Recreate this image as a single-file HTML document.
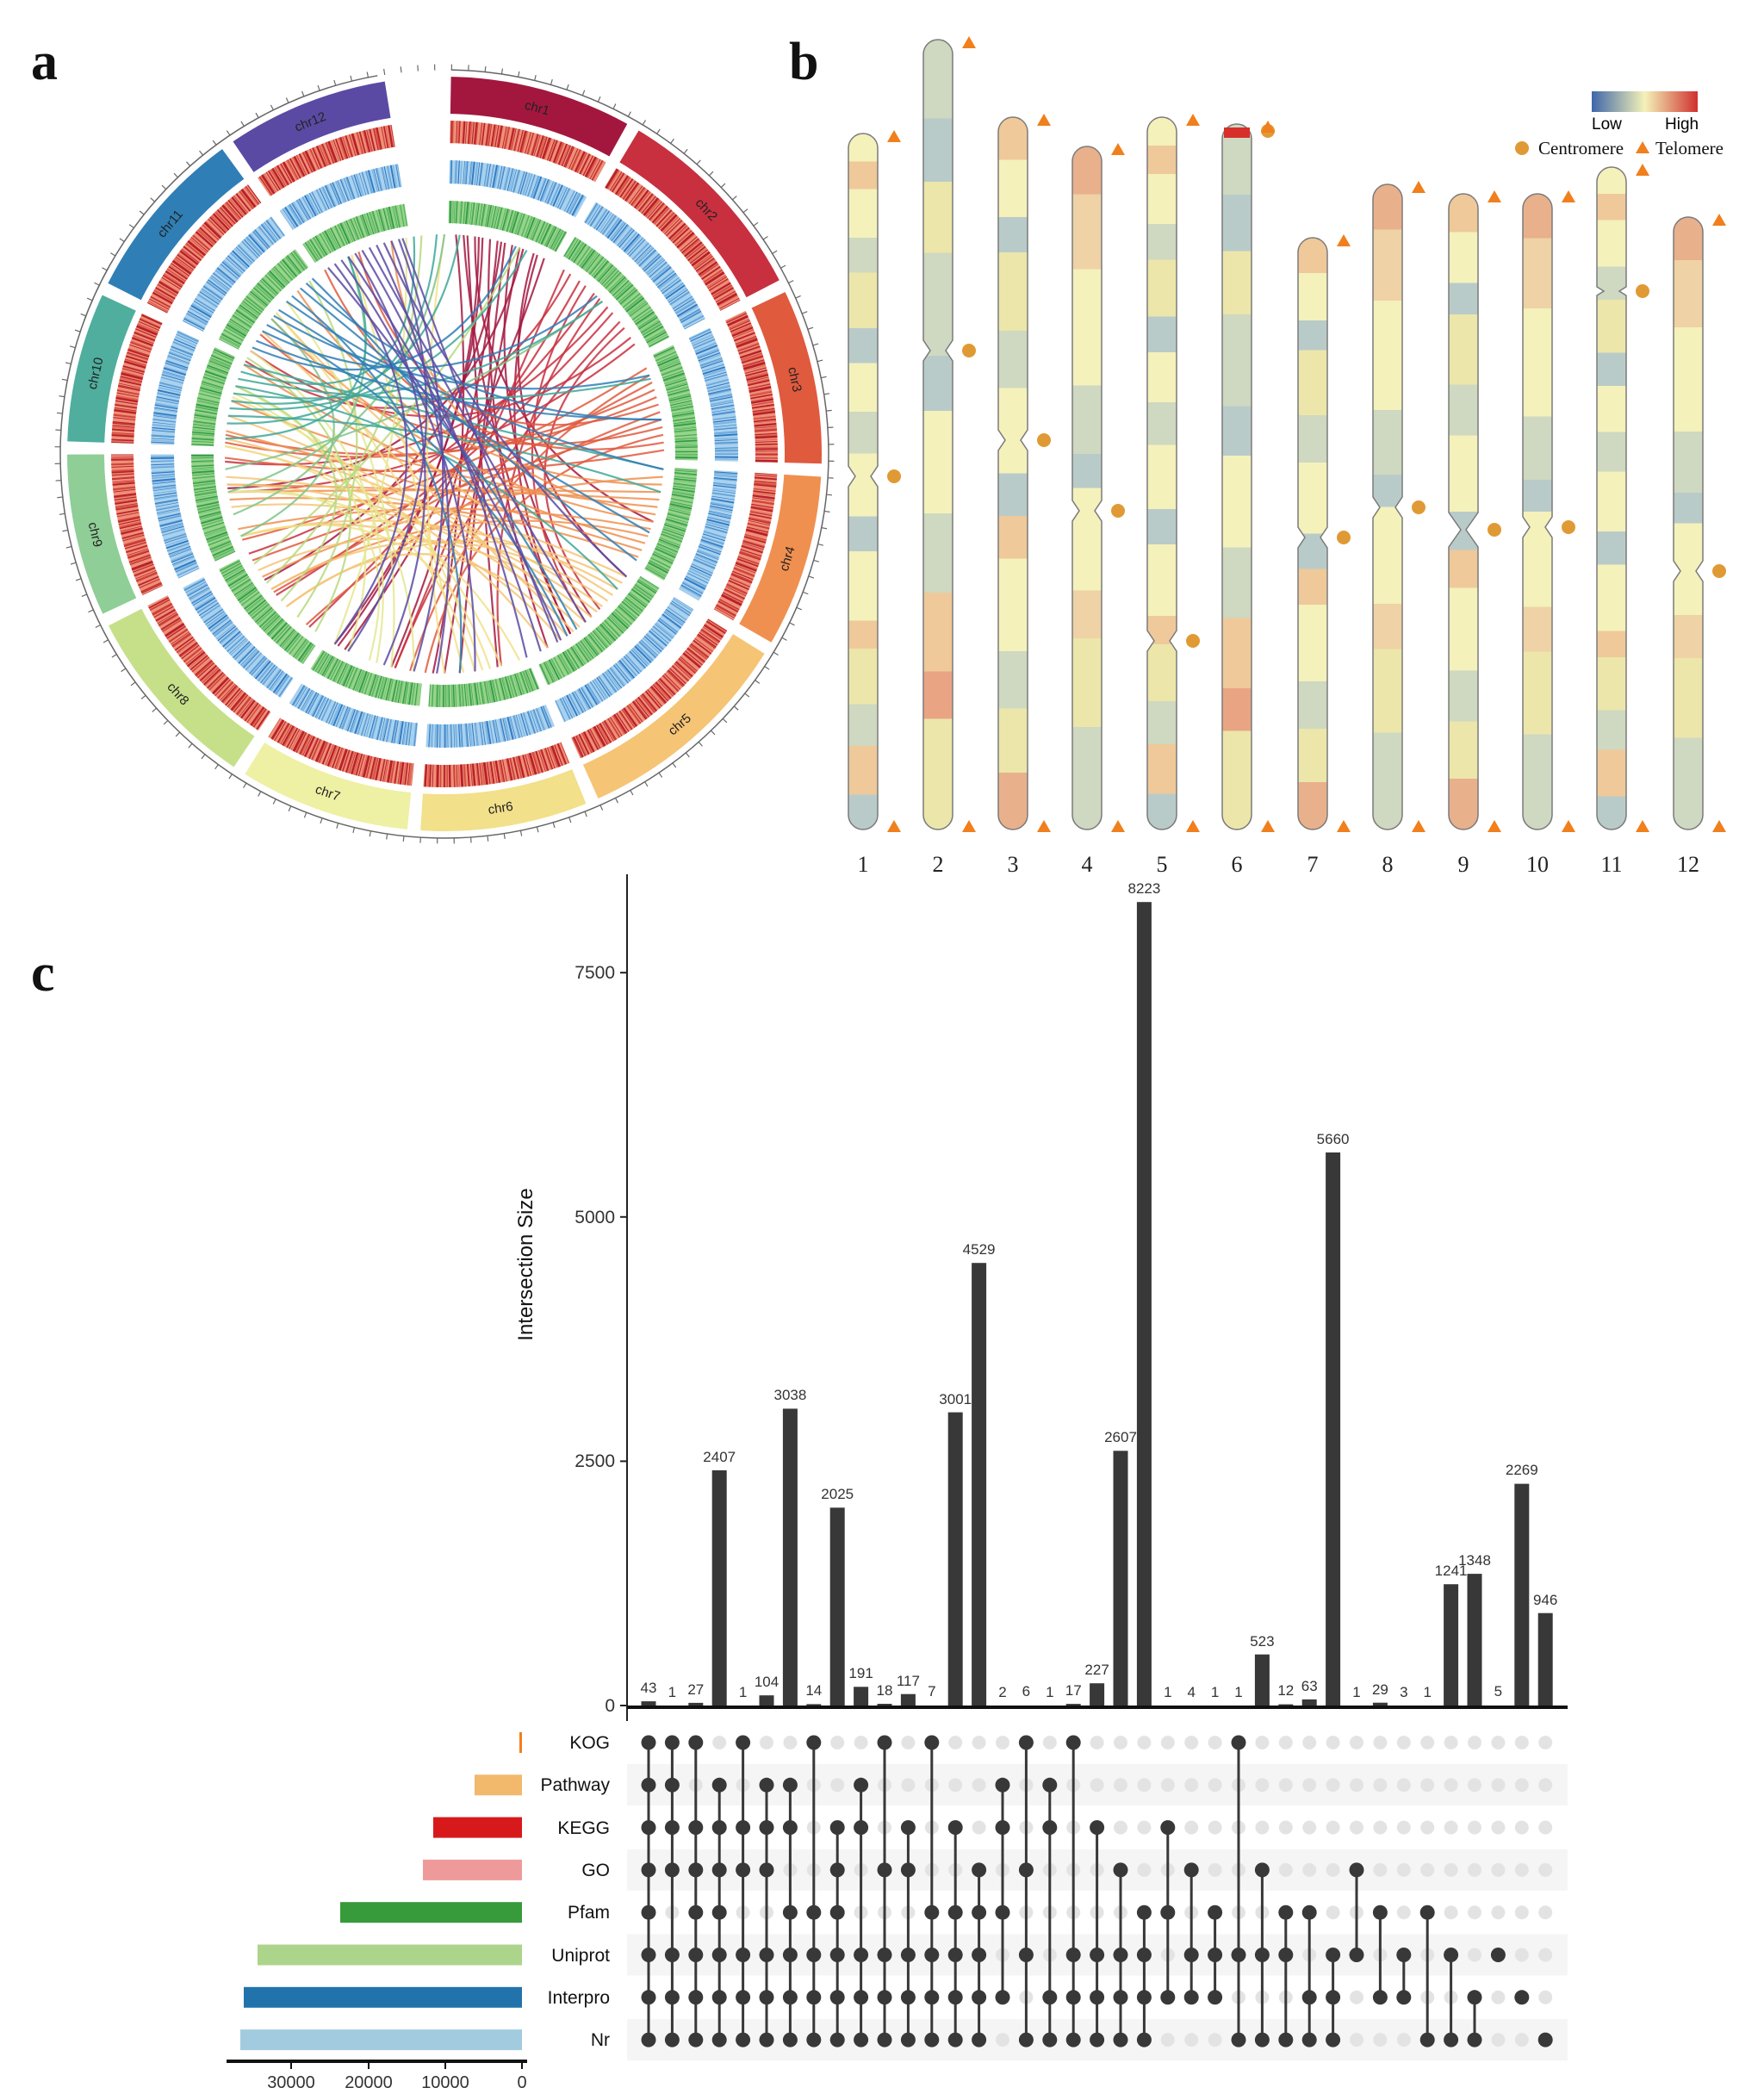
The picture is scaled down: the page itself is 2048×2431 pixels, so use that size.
<!DOCTYPE html>
<html><head><meta charset="utf-8"><style>
html,body{margin:0;padding:0;background:#fff}
svg{display:block}
</style></head><body>
<svg width="2048" height="2431" viewBox="0 0 2048 2431" xmlns="http://www.w3.org/2000/svg" xmlns:xlink="http://www.w3.org/1999/xlink">
<defs>
<linearGradient id="lg" x1="0" x2="1" y1="0" y2="0">
<stop offset="0" stop-color="#3f66a8"/><stop offset="0.5" stop-color="#f4f2b8"/><stop offset="1" stop-color="#d0302e"/>
</linearGradient>
<linearGradient id="g1" x1="0" x2="0" y1="0" y2="1">
<stop offset="0" stop-color="#f4f1bb"/><stop offset=".04" stop-color="#f4f1bb"/><stop offset=".04" stop-color="#efc99a"/><stop offset=".08" stop-color="#efc99a"/><stop offset=".08" stop-color="#f4f1bb"/><stop offset=".15" stop-color="#f4f1bb"/><stop offset=".15" stop-color="#cfd8c0"/><stop offset=".2" stop-color="#cfd8c0"/><stop offset=".2" stop-color="#ece6aa"/><stop offset=".28" stop-color="#ece6aa"/><stop offset=".28" stop-color="#b9cbc9"/><stop offset=".33" stop-color="#b9cbc9"/><stop offset=".33" stop-color="#f4f1bb"/><stop offset=".4" stop-color="#f4f1bb"/><stop offset=".4" stop-color="#cfd8c0"/><stop offset=".46" stop-color="#cfd8c0"/><stop offset=".46" stop-color="#f4f1bb"/><stop offset=".55" stop-color="#f4f1bb"/><stop offset=".55" stop-color="#b9cbc9"/><stop offset=".6" stop-color="#b9cbc9"/><stop offset=".6" stop-color="#f4f1bb"/><stop offset=".7" stop-color="#f4f1bb"/><stop offset=".7" stop-color="#efc99a"/><stop offset=".74" stop-color="#efc99a"/><stop offset=".74" stop-color="#ece6aa"/><stop offset=".82" stop-color="#ece6aa"/><stop offset=".82" stop-color="#cfd8c0"/><stop offset=".88" stop-color="#cfd8c0"/><stop offset=".88" stop-color="#efc99a"/><stop offset=".95" stop-color="#efc99a"/><stop offset=".95" stop-color="#b9cbc9"/><stop offset="1" stop-color="#b9cbc9"/>
</linearGradient>
<linearGradient id="g2" x1="0" x2="0" y1="0" y2="1">
<stop offset="0" stop-color="#efc99a"/><stop offset=".06" stop-color="#efc99a"/><stop offset=".06" stop-color="#f4f1bb"/><stop offset=".14" stop-color="#f4f1bb"/><stop offset=".14" stop-color="#b9cbc9"/><stop offset=".19" stop-color="#b9cbc9"/><stop offset=".19" stop-color="#ece6aa"/><stop offset=".3" stop-color="#ece6aa"/><stop offset=".3" stop-color="#cfd8c0"/><stop offset=".38" stop-color="#cfd8c0"/><stop offset=".38" stop-color="#f4f1bb"/><stop offset=".5" stop-color="#f4f1bb"/><stop offset=".5" stop-color="#b9cbc9"/><stop offset=".56" stop-color="#b9cbc9"/><stop offset=".56" stop-color="#efc99a"/><stop offset=".62" stop-color="#efc99a"/><stop offset=".62" stop-color="#f4f1bb"/><stop offset=".75" stop-color="#f4f1bb"/><stop offset=".75" stop-color="#cfd8c0"/><stop offset=".83" stop-color="#cfd8c0"/><stop offset=".83" stop-color="#ece6aa"/><stop offset=".92" stop-color="#ece6aa"/><stop offset=".92" stop-color="#e9b08c"/><stop offset="1" stop-color="#e9b08c"/>
</linearGradient>
<linearGradient id="g3" x1="0" x2="0" y1="0" y2="1">
<stop offset="0" stop-color="#cfd8c0"/><stop offset=".1" stop-color="#cfd8c0"/><stop offset=".1" stop-color="#b9cbc9"/><stop offset=".18" stop-color="#b9cbc9"/><stop offset=".18" stop-color="#ece6aa"/><stop offset=".27" stop-color="#ece6aa"/><stop offset=".27" stop-color="#cfd8c0"/><stop offset=".4" stop-color="#cfd8c0"/><stop offset=".4" stop-color="#b9cbc9"/><stop offset=".47" stop-color="#b9cbc9"/><stop offset=".47" stop-color="#f4f1bb"/><stop offset=".6" stop-color="#f4f1bb"/><stop offset=".6" stop-color="#cfd8c0"/><stop offset=".7" stop-color="#cfd8c0"/><stop offset=".7" stop-color="#efc99a"/><stop offset=".8" stop-color="#efc99a"/><stop offset=".8" stop-color="#e9a583"/><stop offset=".86" stop-color="#e9a583"/><stop offset=".86" stop-color="#ece6aa"/><stop offset="1" stop-color="#ece6aa"/>
</linearGradient>
<linearGradient id="g4" x1="0" x2="0" y1="0" y2="1">
<stop offset="0" stop-color="#e9b08c"/><stop offset=".07" stop-color="#e9b08c"/><stop offset=".07" stop-color="#efd2a5"/><stop offset=".18" stop-color="#efd2a5"/><stop offset=".18" stop-color="#f4f1bb"/><stop offset=".35" stop-color="#f4f1bb"/><stop offset=".35" stop-color="#cfd8c0"/><stop offset=".45" stop-color="#cfd8c0"/><stop offset=".45" stop-color="#b9cbc9"/><stop offset=".5" stop-color="#b9cbc9"/><stop offset=".5" stop-color="#f4f1bb"/><stop offset=".65" stop-color="#f4f1bb"/><stop offset=".65" stop-color="#efd2a5"/><stop offset=".72" stop-color="#efd2a5"/><stop offset=".72" stop-color="#ece6aa"/><stop offset=".85" stop-color="#ece6aa"/><stop offset=".85" stop-color="#cfd8c0"/><stop offset="1" stop-color="#cfd8c0"/>
</linearGradient>
<pattern id="gd" patternUnits="userSpaceOnUse" x="739.3" y="1998.35" width="27.4" height="49.3">
<circle cx="13.7" cy="24.65" r="8" fill="#e3e3e3"/>
</pattern>
<pattern id="st" patternUnits="userSpaceOnUse" x="0" y="0" width="40" height="13">
<rect x="0" y="0" width="40" height="1.2" fill="#8aa" fill-opacity="0.25"/>
</pattern>
<path id="d20" d="M0,-255Q7,-39.4 87.2,-239.6"/>
<path id="d40" d="M0,-255Q13.7,-37.6 163.9,-195.3"/>
<path id="d60" d="M0,-255Q20,-34.6 220.8,-127.5"/>
<path id="d80" d="M0,-255Q25.7,-30.6 251.1,-44.3"/>
<path id="d100" d="M0,-255Q30.6,-25.7 251.1,44.3"/>
<path id="d120" d="M0,-255Q34.6,-20 220.8,127.5"/>
<path id="d140" d="M0,-255Q37.6,-13.7 163.9,195.3"/>
<path id="d160" d="M0,-255Q39.4,-7 87.2,239.6"/>
<path id="d180" d="M0,-255Q40,0 0,255"/>
<path id="d200" d="M0,-255Q39.4,7 -87.2,239.6"/>
<path id="d220" d="M0,-255Q37.6,13.7 -163.9,195.3"/>
<path id="d240" d="M0,-255Q34.6,20 -220.8,127.5"/>
<path id="d260" d="M0,-255Q30.6,25.7 -251.1,44.3"/>
</defs>
<g font-family="Liberation Serif, serif" font-weight="bold" font-size="62" fill="#111">
<text x="36" y="92">a</text><text x="916" y="92">b</text><text x="36" y="1150">c</text>
</g>

<!-- circos -->
<g transform="translate(516,527)">
<g fill="none" stroke-width="2.2" stroke-opacity="0.85">
<g stroke="#a3173f"><use href="#d180" transform="rotate(3)"/><use href="#d160" transform="rotate(6)"/><use href="#d200" transform="rotate(9)"/><use href="#d140" transform="rotate(12)"/><use href="#d220" transform="rotate(15)"/><use href="#d120" transform="rotate(18)"/><use href="#d240" transform="rotate(21)"/><use href="#d100" transform="rotate(24)"/><use href="#d180" transform="rotate(27)"/><use href="#d200" transform="rotate(10)"/><use href="#d160" transform="rotate(20)"/><use href="#d180" transform="rotate(14)"/><use href="#d140" transform="rotate(5)"/><use href="#d120" transform="rotate(25)"/><use href="#d100" transform="rotate(8)"/><use href="#d160" transform="rotate(16)"/></g>
<g stroke="#c8303f"><use href="#d160" transform="rotate(33)"/><use href="#d180" transform="rotate(38)"/><use href="#d200" transform="rotate(43)"/><use href="#d220" transform="rotate(48)"/><use href="#d140" transform="rotate(53)"/><use href="#d240" transform="rotate(58)"/><use href="#d260" transform="rotate(35)"/><use href="#d120" transform="rotate(45)"/><use href="#d180" transform="rotate(50)"/><use href="#d200" transform="rotate(60)"/><use href="#d100" transform="rotate(40)"/><use href="#d80" transform="rotate(55)"/></g>
<g stroke="#e05a3e"><use href="#d180" transform="rotate(67)"/><use href="#d160" transform="rotate(71)"/><use href="#d200" transform="rotate(75)"/><use href="#d140" transform="rotate(79)"/><use href="#d220" transform="rotate(83)"/><use href="#d240" transform="rotate(87)"/><use href="#d120" transform="rotate(69)"/><use href="#d260" transform="rotate(77)"/><use href="#d100" transform="rotate(85)"/><use href="#d180" transform="rotate(89)"/><use href="#d160" transform="rotate(81)"/><use href="#d200" transform="rotate(73)"/></g>
<g stroke="#f09050"><use href="#d140" transform="rotate(96)"/><use href="#d160" transform="rotate(100)"/><use href="#d180" transform="rotate(104)"/><use href="#d200" transform="rotate(108)"/><use href="#d120" transform="rotate(112)"/><use href="#d160" transform="rotate(116)"/><use href="#d220" transform="rotate(98)"/><use href="#d240" transform="rotate(106)"/><use href="#d180" transform="rotate(114)"/><use href="#d140" transform="rotate(118)"/><use href="#d160" transform="rotate(102)"/><use href="#d140" transform="rotate(110)"/></g>
<g stroke="#f6c475"><use href="#d140" transform="rotate(124)"/><use href="#d120" transform="rotate(128)"/><use href="#d100" transform="rotate(132)"/><use href="#d120" transform="rotate(136)"/><use href="#d140" transform="rotate(140)"/><use href="#d160" transform="rotate(144)"/><use href="#d100" transform="rotate(148)"/><use href="#d120" transform="rotate(152)"/><use href="#d180" transform="rotate(130)"/><use href="#d80" transform="rotate(146)"/><use href="#d100" transform="rotate(138)"/><use href="#d120" transform="rotate(142)"/><use href="#d140" transform="rotate(134)"/><use href="#d100" transform="rotate(126)"/></g>
<g stroke="#f2e08a"><use href="#d100" transform="rotate(160)"/><use href="#d120" transform="rotate(165)"/><use href="#d140" transform="rotate(170)"/><use href="#d160" transform="rotate(175)"/><use href="#d180" transform="rotate(180)"/><use href="#d80" transform="rotate(168)"/><use href="#d100" transform="rotate(172)"/></g>
<g stroke="#e4e890"><use href="#d100" transform="rotate(188)"/><use href="#d120" transform="rotate(194)"/><use href="#d60" transform="rotate(200)"/><use href="#d80" transform="rotate(206)"/><use href="#d140" transform="rotate(210)"/><use href="#d100" transform="rotate(198)"/></g>
<g stroke="#b9d97e"><use href="#d80" transform="rotate(216)"/><use href="#d100" transform="rotate(222)"/><use href="#d60" transform="rotate(228)"/><use href="#d120" transform="rotate(234)"/><use href="#d140" transform="rotate(240)"/></g>
<g stroke="#7fc48a"><use href="#d60" transform="rotate(248)"/><use href="#d80" transform="rotate(254)"/><use href="#d100" transform="rotate(260)"/><use href="#d140" transform="rotate(266)"/></g>
<g stroke="#3fa89a"><use href="#d60" transform="rotate(274)"/><use href="#d80" transform="rotate(278)"/><use href="#d100" transform="rotate(282)"/><use href="#d120" transform="rotate(286)"/><use href="#d140" transform="rotate(290)"/><use href="#d160" transform="rotate(294)"/><use href="#d180" transform="rotate(280)"/><use href="#d200" transform="rotate(288)"/><use href="#d80" transform="rotate(284)"/><use href="#d60" transform="rotate(292)"/></g>
<g stroke="#2f7fb6"><use href="#d80" transform="rotate(299)"/><use href="#d100" transform="rotate(304)"/><use href="#d120" transform="rotate(309)"/><use href="#d140" transform="rotate(314)"/><use href="#d160" transform="rotate(319)"/><use href="#d180" transform="rotate(323)"/><use href="#d200" transform="rotate(306)"/><use href="#d220" transform="rotate(316)"/><use href="#d140" transform="rotate(301)"/><use href="#d120" transform="rotate(321)"/><use href="#d160" transform="rotate(311)"/></g>
<g stroke="#5b4aa3"><use href="#d180" transform="rotate(328)"/><use href="#d200" transform="rotate(332)"/><use href="#d220" transform="rotate(336)"/><use href="#d160" transform="rotate(340)"/><use href="#d140" transform="rotate(344)"/><use href="#d200" transform="rotate(348)"/><use href="#d240" transform="rotate(330)"/><use href="#d180" transform="rotate(338)"/><use href="#d220" transform="rotate(346)"/><use href="#d200" transform="rotate(342)"/><use href="#d180" transform="rotate(334)"/><use href="#d160" transform="rotate(349)"/></g>
</g>
<g transform="rotate(-90)" fill="none">
<circle r="416.5" stroke-width="43" pathLength="360" stroke="#a3173f" stroke-dasharray="30 330" stroke-dashoffset="0"/>
<circle r="416.5" stroke-width="43" pathLength="360" stroke="#c8303f" stroke-dasharray="33.6 326.4" stroke-dashoffset="-30"/>
<circle r="416.5" stroke-width="43" pathLength="360" stroke="#e05a3e" stroke-dasharray="28.9 331.1" stroke-dashoffset="-63.6"/>
<circle r="416.5" stroke-width="43" pathLength="360" stroke="#f09050" stroke-dasharray="28.5 331.5" stroke-dashoffset="-92.5"/>
<circle r="416.5" stroke-width="43" pathLength="360" stroke="#f6c475" stroke-dasharray="36 324" stroke-dashoffset="-121"/>
<circle r="416.5" stroke-width="43" pathLength="360" stroke="#f2e08a" stroke-dasharray="27.7 332.3" stroke-dashoffset="-157"/>
<circle r="416.5" stroke-width="43" pathLength="360" stroke="#eef0a3" stroke-dasharray="28.3 331.7" stroke-dashoffset="-184.7"/>
<circle r="416.5" stroke-width="43" pathLength="360" stroke="#c6e08a" stroke-dasharray="31 329" stroke-dashoffset="-213"/>
<circle r="416.5" stroke-width="43" pathLength="360" stroke="#8fce96" stroke-dasharray="27 333" stroke-dashoffset="-244"/>
<circle r="416.5" stroke-width="43" pathLength="360" stroke="#4fae9e" stroke-dasharray="25 335" stroke-dashoffset="-271"/>
<circle r="416.5" stroke-width="43" pathLength="360" stroke="#2f7fb6" stroke-dasharray="29 331" stroke-dashoffset="-296"/>
<circle r="416.5" stroke-width="43" pathLength="360" stroke="#5b4aa3" stroke-dasharray="26 334" stroke-dashoffset="-325"/>
<circle r="374" stroke-width="26" stroke="#ee8f78"/>
<circle r="374" stroke-width="26" pathLength="1000" stroke="#b8202a" stroke-dasharray="0.8 1.2 0.5 0.6 1.2 1.6 0.4 0.7 0.7 1.4 1 0.5 0.3 1"/>
<circle r="374" stroke-width="26" pathLength="1000" stroke="#d9533f" stroke-opacity="0.7" stroke-dasharray="0.4 3.1 1 2.2 0.6 1.7"/>
<circle r="327.5" stroke-width="27" stroke="#a9d1ee"/>
<circle r="327.5" stroke-width="27" pathLength="1000" stroke="#2e78c2" stroke-dasharray="0.5 1.6 0.3 1 0.9 2.2 0.4 0.9 0.6 2.5 0.3 1.2"/>
<circle r="327.5" stroke-width="27" pathLength="1000" stroke="#6aa9dc" stroke-opacity="0.7" stroke-dasharray="1 2.3 0.6 1.9"/>
<circle r="281" stroke-width="26" stroke="#98d48c"/>
<circle r="281" stroke-width="26" pathLength="1000" stroke="#2f9a45" stroke-dasharray="0.6 1.5 0.4 1 1 2 0.3 0.8 0.8 2.4"/>
<circle r="281" stroke-width="26" pathLength="1000" stroke="#5fbb62" stroke-opacity="0.7" stroke-dasharray="0.9 2.1 0.5 1.6"/>
<circle r="353" stroke-width="180" pathLength="360" stroke="#fff" stroke-dasharray="10 28 2 31.6 2 26.9 2 26.5 2 34 2 25.7 2 26.3 2 29 2 25 2 23 2 27 2 25" stroke-dashoffset="9"/>
<circle r="446" stroke-width="1.5" stroke="#666" pathLength="360" stroke-dasharray="349 11" stroke-dashoffset="-1"/>
<circle r="449" stroke-width="7" stroke="#666" pathLength="360" stroke-dasharray="0.15 2.35" stroke-dashoffset="-1"/>
</g>
<g font-family="Liberation Sans, sans-serif" font-size="15" fill="#222" text-anchor="middle">
<text transform="rotate(15) translate(0,-411)">chr1</text>
<text transform="rotate(47) translate(0,-411)">chr2</text>
<text transform="rotate(78) translate(0,-411)">chr3</text>
<text transform="rotate(107) translate(0,-411) rotate(180)" dy="10">chr4</text>
<text transform="rotate(139) translate(0,-411) rotate(180)" dy="10">chr5</text>
<text transform="rotate(171) translate(0,-411) rotate(180)" dy="10">chr6</text>
<text transform="rotate(199) translate(0,-411) rotate(180)" dy="10">chr7</text>
<text transform="rotate(228) translate(0,-411) rotate(180)" dy="10">chr8</text>
<text transform="rotate(257) translate(0,-411) rotate(180)" dy="10">chr9</text>
<text transform="rotate(283) translate(0,-411)">chr10</text>
<text transform="rotate(310) translate(0,-411)">chr11</text>
<text transform="rotate(338) translate(0,-411)">chr12</text>
</g>
</g>

<!-- chromosomes -->
<g stroke="#7a7a7a" stroke-width="1.5">
<path fill="url(#g1)" d="M985,172A17,17 0 0 1 1019,172L1019,541L1011,553L1019,565L1019,946A17,17 0 0 1 985,946L985,565L993,553L985,541Z"/>
<path fill="url(#g3)" d="M1072,63A17,17 0 0 1 1106,63L1106,395L1098,407L1106,419L1106,946A17,17 0 0 1 1072,946L1072,419L1080,407L1072,395Z"/>
<path fill="url(#g2)" d="M1159,153A17,17 0 0 1 1193,153L1193,499L1185,511L1193,523L1193,946A17,17 0 0 1 1159,946L1159,523L1167,511L1159,499Z"/>
<path fill="url(#g4)" d="M1245,187A17,17 0 0 1 1279,187L1279,581L1271,593L1279,605L1279,946A17,17 0 0 1 1245,946L1245,605L1253,593L1245,581Z"/>
<path fill="url(#g1)" d="M1332,153A17,17 0 0 1 1366,153L1366,732L1358,744L1366,756L1366,946A17,17 0 0 1 1332,946L1332,756L1340,744L1332,732Z"/>
<path fill="url(#g3)" d="M1419,161A17,17 0 0 1 1453,161L1453,946A17,17 0 0 1 1419,946Z"/>
<path fill="url(#g2)" d="M1507,293A17,17 0 0 1 1541,293L1541,612L1533,624L1541,636L1541,946A17,17 0 0 1 1507,946L1507,636L1515,624L1507,612Z"/>
<path fill="url(#g4)" d="M1594,231A17,17 0 0 1 1628,231L1628,577L1620,589L1628,601L1628,946A17,17 0 0 1 1594,946L1594,601L1602,589L1594,577Z"/>
<path fill="url(#g2)" d="M1682,242A17,17 0 0 1 1716,242L1716,595L1702,615L1716,635L1716,946A17,17 0 0 1 1682,946L1682,635L1696,615L1682,595Z"/>
<path fill="url(#g4)" d="M1768,242A17,17 0 0 1 1802,242L1802,600L1794,612L1802,624L1802,946A17,17 0 0 1 1768,946L1768,624L1776,612L1768,600Z"/>
<path fill="url(#g1)" d="M1854,211A17,17 0 0 1 1888,211L1888,333L1880,338L1888,343L1888,946A17,17 0 0 1 1854,946L1854,343L1862,338L1854,333Z"/>
<path fill="url(#g4)" d="M1943,269A17,17 0 0 1 1977,269L1977,651L1969,663L1977,675L1977,946A17,17 0 0 1 1943,946L1943,675L1951,663L1943,651Z"/>
</g>
<rect x="1421" y="148" width="30" height="12" fill="#d7302a"/>
<g fill="#e09a35">
<circle cx="1038" cy="553" r="8"/><circle cx="1125" cy="407" r="8"/><circle cx="1212" cy="511" r="8"/><circle cx="1298" cy="593" r="8"/><circle cx="1385" cy="744" r="8"/><circle cx="1472" cy="152" r="8"/><circle cx="1560" cy="624" r="8"/><circle cx="1647" cy="589" r="8"/><circle cx="1735" cy="615" r="8"/><circle cx="1821" cy="612" r="8"/><circle cx="1907" cy="338" r="8"/><circle cx="1996" cy="663" r="8"/>
</g>
<g fill="#f07f1c">
<path d="M1038,151l-8,14h16z M1125,42l-8,14h16z M1212,132l-8,14h16z M1298,166l-8,14h16z M1385,132l-8,14h16z M1472,140l-8,14h16z M1560,272l-8,14h16z M1647,210l-8,14h16z M1735,221l-8,14h16z M1821,221l-8,14h16z M1907,190l-8,14h16z M1996,248l-8,14h16z"/>
<path d="M1038,952l-8,14h16z M1125,952l-8,14h16z M1212,952l-8,14h16z M1298,952l-8,14h16z M1385,952l-8,14h16z M1472,952l-8,14h16z M1560,952l-8,14h16z M1647,952l-8,14h16z M1735,952l-8,14h16z M1821,952l-8,14h16z M1907,952l-8,14h16z M1996,952l-8,14h16z"/>
</g>
<g font-family="Liberation Serif, serif" font-size="26" fill="#222" text-anchor="middle">
<text x="1002" y="1012">1</text><text x="1089" y="1012">2</text><text x="1176" y="1012">3</text><text x="1262" y="1012">4</text><text x="1349" y="1012">5</text><text x="1436" y="1012">6</text><text x="1524" y="1012">7</text><text x="1611" y="1012">8</text><text x="1699" y="1012">9</text><text x="1785" y="1012">10</text><text x="1871" y="1012">11</text><text x="1960" y="1012">12</text>
</g>
<rect x="1848" y="106" width="123" height="24" fill="url(#lg)"/>
<g font-family="Liberation Sans, sans-serif" font-size="19" fill="#000">
<text x="1848" y="150">Low</text><text x="1933" y="150">High</text></g>
<g font-family="Liberation Serif, serif" font-size="21" fill="#111">
<circle cx="1767" cy="172" r="8" fill="#e09a35"/>
<text x="1786" y="179">Centromere</text>
<polygon points="1907,164 1899,178 1915,178" fill="#f07f1c"/>
<text x="1922" y="179">Telomere</text></g>

<!-- upset -->
<g font-family="Liberation Sans, sans-serif">
<rect x="728" y="2048" width="1092" height="48" fill="#f5f5f5"/>
<rect x="728" y="2146.9" width="1092" height="48" fill="#f5f5f5"/>
<rect x="728" y="2245.5" width="1092" height="48" fill="#f5f5f5"/>
<rect x="728" y="2344.1" width="1092" height="48" fill="#f5f5f5"/>
<rect x="739" y="1998" width="1070" height="395" fill="url(#gd)"/>
<line x1="728" y1="1015" x2="728" y2="1998" stroke="#222" stroke-width="2"/>
<line x1="728" y1="1982" x2="1820" y2="1982" stroke="#111" stroke-width="4"/>
<g stroke="#222" stroke-width="2"><line x1="720" y1="1980" x2="728" y2="1980"/><line x1="720" y1="1696.4" x2="728" y2="1696.4"/><line x1="720" y1="1412.8" x2="728" y2="1412.8"/><line x1="720" y1="1129.2" x2="728" y2="1129.2"/></g>
<g font-size="21" fill="#333" text-anchor="end"><text x="714" y="1987">0</text><text x="714" y="1703">2500</text><text x="714" y="1420">5000</text><text x="714" y="1136">7500</text></g>
<text x="618" y="1468" font-size="24" fill="#111" text-anchor="middle" transform="rotate(-90 618 1468)">Intersection Size</text>
<g fill="#383838">
<rect x="744.5" y="1975.1" width="17" height="4.9"/>
<rect x="799.3" y="1976.9" width="17" height="3.1"/>
<rect x="826.7" y="1706.9" width="17" height="273.1"/>
<rect x="881.5" y="1968.2" width="17" height="11.8"/>
<rect x="908.9" y="1635.4" width="17" height="344.6"/>
<rect x="936.3" y="1978.4" width="17" height="1.6"/>
<rect x="963.7" y="1750.3" width="17" height="229.7"/>
<rect x="991.1" y="1958.3" width="17" height="21.7"/>
<rect x="1018.5" y="1978" width="17" height="2"/>
<rect x="1045.9" y="1966.7" width="17" height="13.3"/>
<rect x="1100.7" y="1639.6" width="17" height="340.4"/>
<rect x="1128.1" y="1466.2" width="17" height="513.8"/>
<rect x="1237.7" y="1978.1" width="17" height="1.9"/>
<rect x="1265.1" y="1954.2" width="17" height="25.8"/>
<rect x="1292.5" y="1684.3" width="17" height="295.7"/>
<rect x="1319.9" y="1047.2" width="17" height="932.8"/>
<rect x="1456.9" y="1920.7" width="17" height="59.3"/>
<rect x="1484.3" y="1978.6" width="17" height="1.4"/>
<rect x="1511.7" y="1972.9" width="17" height="7.1"/>
<rect x="1539.1" y="1337.9" width="17" height="642.1"/>
<rect x="1593.9" y="1976.7" width="17" height="3.3"/>
<rect x="1676.1" y="1839.2" width="17" height="140.8"/>
<rect x="1703.5" y="1827.1" width="17" height="152.9"/>
<rect x="1758.3" y="1722.6" width="17" height="257.4"/>
<rect x="1785.7" y="1872.7" width="17" height="107.3"/>
</g>
<g font-size="17" fill="#333" text-anchor="middle">
<text x="753" y="1965">43</text><text x="780.4" y="1970">1</text><text x="807.8" y="1967">27</text><text x="835.2" y="1697">2407</text><text x="862.6" y="1970">1</text><text x="890" y="1958">104</text><text x="917.4" y="1625">3038</text><text x="944.8" y="1968">14</text><text x="972.2" y="1740">2025</text><text x="999.6" y="1948">191</text><text x="1027" y="1968">18</text><text x="1054.4" y="1957">117</text><text x="1081.8" y="1969">7</text><text x="1109.2" y="1630">3001</text><text x="1136.6" y="1456">4529</text><text x="1164" y="1970">2</text><text x="1191.4" y="1969">6</text><text x="1218.8" y="1970">1</text><text x="1246.2" y="1968">17</text><text x="1273.6" y="1944">227</text><text x="1301" y="1674">2607</text><text x="1328.4" y="1037">8223</text><text x="1355.8" y="1970">1</text><text x="1383.2" y="1970">4</text><text x="1410.6" y="1970">1</text><text x="1438" y="1970">1</text><text x="1465.4" y="1911">523</text><text x="1492.8" y="1968">12</text><text x="1520.2" y="1963">63</text><text x="1547.6" y="1328">5660</text><text x="1575" y="1970">1</text><text x="1602.4" y="1967">29</text><text x="1629.8" y="1970">3</text><text x="1657.2" y="1970">1</text><text x="1684.6" y="1829">1241</text><text x="1712" y="1817">1348</text><text x="1739.4" y="1969">5</text><text x="1766.8" y="1712">2269</text><text x="1794.2" y="1863">946</text>
</g>
<path stroke="#383838" stroke-width="3" fill="none" d="M753 2023V2368.1M780.4 2023V2368.1M807.8 2023V2368.1M835.2 2072.3V2368.1M862.6 2023V2368.1M890 2072.3V2368.1M917.4 2072.3V2368.1M944.8 2023V2368.1M972.2 2121.6V2368.1M999.6 2072.3V2368.1M1027 2023V2368.1M1054.4 2121.6V2368.1M1081.8 2023V2368.1M1109.2 2121.6V2368.1M1136.6 2170.9V2368.1M1164 2072.3V2318.8M1191.4 2023V2368.1M1218.8 2072.3V2368.1M1246.2 2023V2368.1M1273.6 2121.6V2368.1M1301 2170.9V2368.1M1328.4 2220.2V2368.1M1355.8 2121.6V2318.8M1383.2 2170.9V2318.8M1410.6 2220.2V2318.8M1438 2023V2368.1M1465.4 2170.9V2368.1M1492.8 2220.2V2368.1M1520.2 2220.2V2368.1M1547.6 2269.5V2368.1M1575 2170.9V2269.5M1602.4 2220.2V2318.8M1629.8 2269.5V2318.8M1657.2 2220.2V2368.1M1684.6 2269.5V2368.1M1712 2318.8V2368.1"/>
<path stroke="#383838" stroke-width="17" stroke-linecap="round" fill="none" d="
M753 2023h0M780.4 2023h0M807.8 2023h0M862.6 2023h0M944.8 2023h0M1027 2023h0M1081.8 2023h0M1191.4 2023h0M1246.2 2023h0M1438 2023h0
M753 2072.3h0M780.4 2072.3h0M835.2 2072.3h0M890 2072.3h0M917.4 2072.3h0M999.6 2072.3h0M1164 2072.3h0M1218.8 2072.3h0
M753 2121.6h0M780.4 2121.6h0M807.8 2121.6h0M835.2 2121.6h0M862.6 2121.6h0M890 2121.6h0M917.4 2121.6h0M972.2 2121.6h0M999.6 2121.6h0M1054.4 2121.6h0M1109.2 2121.6h0M1164 2121.6h0M1218.8 2121.6h0M1273.6 2121.6h0M1355.8 2121.6h0
M753 2170.9h0M780.4 2170.9h0M807.8 2170.9h0M835.2 2170.9h0M862.6 2170.9h0M890 2170.9h0M972.2 2170.9h0M1027 2170.9h0M1054.4 2170.9h0M1136.6 2170.9h0M1191.4 2170.9h0M1301 2170.9h0M1383.2 2170.9h0M1465.4 2170.9h0M1575 2170.9h0
M753 2220.2h0M807.8 2220.2h0M835.2 2220.2h0M917.4 2220.2h0M944.8 2220.2h0M972.2 2220.2h0M1081.8 2220.2h0M1109.2 2220.2h0M1136.6 2220.2h0M1164 2220.2h0M1328.4 2220.2h0M1355.8 2220.2h0M1410.6 2220.2h0M1492.8 2220.2h0M1520.2 2220.2h0M1602.4 2220.2h0M1657.2 2220.2h0
M753 2269.5h0M780.4 2269.5h0M807.8 2269.5h0M835.2 2269.5h0M862.6 2269.5h0M890 2269.5h0M917.4 2269.5h0M944.8 2269.5h0M972.2 2269.5h0M999.6 2269.5h0M1027 2269.5h0M1054.4 2269.5h0M1081.8 2269.5h0M1109.2 2269.5h0M1136.6 2269.5h0M1191.4 2269.5h0M1246.2 2269.5h0M1273.6 2269.5h0M1301 2269.5h0M1328.4 2269.5h0M1383.2 2269.5h0M1410.6 2269.5h0M1438 2269.5h0M1465.4 2269.5h0M1492.8 2269.5h0M1547.6 2269.5h0M1575 2269.5h0M1629.8 2269.5h0M1684.6 2269.5h0M1739.4 2269.5h0
M753 2318.8h0M780.4 2318.8h0M807.8 2318.8h0M835.2 2318.8h0M862.6 2318.8h0M890 2318.8h0M917.4 2318.8h0M944.8 2318.8h0M972.2 2318.8h0M999.6 2318.8h0M1027 2318.8h0M1054.4 2318.8h0M1081.8 2318.8h0M1109.2 2318.8h0M1136.6 2318.8h0M1164 2318.8h0M1218.8 2318.8h0M1246.2 2318.8h0M1273.6 2318.8h0M1301 2318.8h0M1328.4 2318.8h0M1355.8 2318.8h0M1383.2 2318.8h0M1410.6 2318.8h0M1520.2 2318.8h0M1547.6 2318.8h0M1602.4 2318.8h0M1629.8 2318.8h0M1712 2318.8h0M1766.8 2318.8h0
M753 2368.1h0M780.4 2368.1h0M807.8 2368.1h0M835.2 2368.1h0M862.6 2368.1h0M890 2368.1h0M917.4 2368.1h0M944.8 2368.1h0M972.2 2368.1h0M999.6 2368.1h0M1027 2368.1h0M1054.4 2368.1h0M1081.8 2368.1h0M1109.2 2368.1h0M1136.6 2368.1h0M1191.4 2368.1h0M1218.8 2368.1h0M1246.2 2368.1h0M1273.6 2368.1h0M1301 2368.1h0M1328.4 2368.1h0M1438 2368.1h0M1465.4 2368.1h0M1492.8 2368.1h0M1520.2 2368.1h0M1547.6 2368.1h0M1657.2 2368.1h0M1684.6 2368.1h0M1712 2368.1h0M1794.2 2368.1h0"/>
<rect x="603" y="2011" width="3" height="24" fill="#f07f1c"/>
<rect x="551" y="2060.3" width="55" height="24" fill="#f2b86c"/>
<rect x="503" y="2109.6" width="103" height="24" fill="#d7191c"/>
<rect x="491" y="2158.9" width="115" height="24" fill="#ef9a9a"/>
<rect x="395" y="2208.2" width="211" height="24" fill="#379a3b"/>
<rect x="299" y="2257.5" width="307" height="24" fill="#acd48a"/>
<rect x="283" y="2306.8" width="323" height="24" fill="#2273ac"/>
<rect x="279" y="2356.1" width="327" height="24" fill="#a3cbdf"/>
<g font-size="21" fill="#111" text-anchor="end">
<text x="708" y="2030">KOG</text><text x="708" y="2079">Pathway</text><text x="708" y="2129">KEGG</text><text x="708" y="2178">GO</text><text x="708" y="2227">Pfam</text><text x="708" y="2277">Uniprot</text><text x="708" y="2326">Interpro</text><text x="708" y="2375">Nr</text>
</g>
<line x1="263" y1="2393" x2="612" y2="2393" stroke="#111" stroke-width="4"/>
<g stroke="#111" stroke-width="2"><line x1="606" y1="2393" x2="606" y2="2402"/><line x1="517" y1="2393" x2="517" y2="2402"/><line x1="428" y1="2393" x2="428" y2="2402"/><line x1="338" y1="2393" x2="338" y2="2402"/></g>
<g font-size="20" fill="#333" text-anchor="middle"><text x="606" y="2424">0</text><text x="517" y="2424">10000</text><text x="428" y="2424">20000</text><text x="338" y="2424">30000</text></g>
</g>
</svg>
</body></html>
